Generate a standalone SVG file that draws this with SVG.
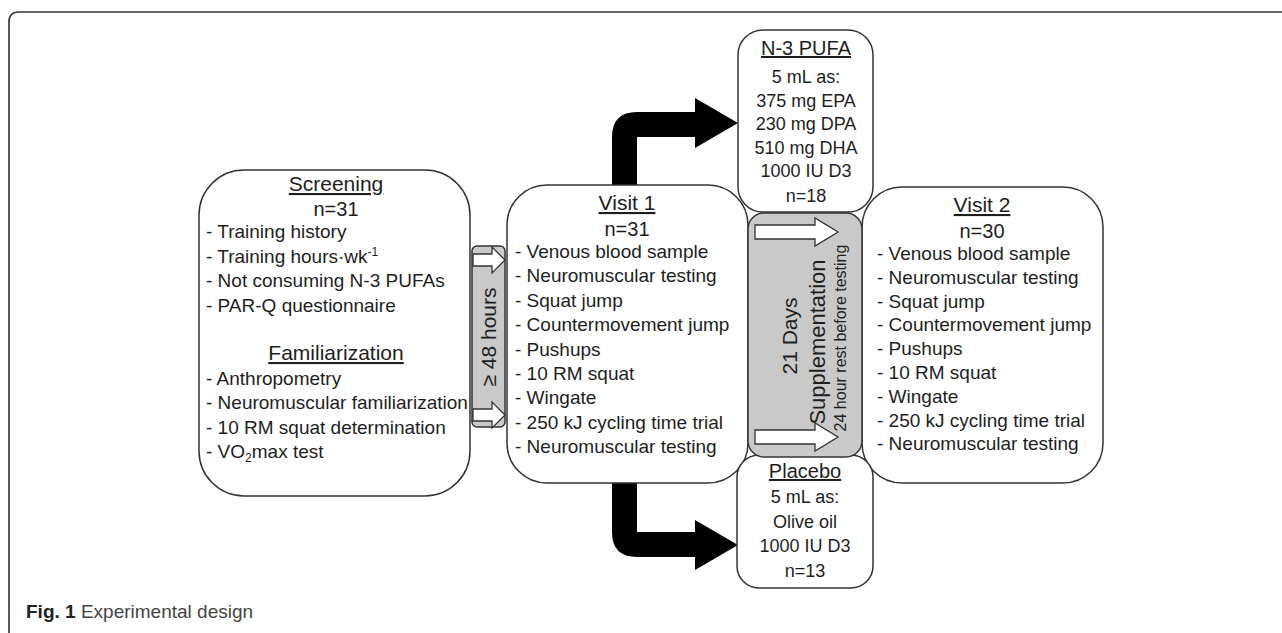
<svg xmlns="http://www.w3.org/2000/svg" width="1282" height="633" viewBox="0 0 1282 633">
<style>
.box{fill:#fff;stroke:#333;stroke-width:1.5}
.gray{fill:#c9c9c9;stroke:#333;stroke-width:1.5}
.warr{fill:#fff;stroke:#333;stroke-width:1.3}
.barr{fill:#000}
text{font-family:"Liberation Sans",Arial,sans-serif;fill:#1e1e1e}
.b{font-size:19px}
.s{font-size:18px}
.h{font-size:21px;text-decoration:underline}
.hs{font-size:20px;text-decoration:underline}
.n{font-size:20px}
.c{text-anchor:middle}
</style>
<path d="M9 633 L9 22 Q9 12 19 12 L1282 12" fill="none" stroke="#333" stroke-width="1.6"/>
<g id="connectors">
<path class="barr" d="M612 185 L612 137 Q612 112 637 112 L695 112 L695 98 L738 123 L695 148 L695 137 L637 137 L637 185 Z"/>
<path class="barr" d="M612 483 L612 532 Q612 557 637 557 L695 557 L695 570 L738 545 L695 520 L695 532 L637 532 L637 483 Z"/>
</g>
<g id="screening">
<rect class="box" x="199" y="170" width="271" height="326" rx="45"/>
<text class="h c" x="336" y="191">Screening</text>
<text class="n c" x="336" y="216">n=31</text>
<text class="b" x="206" y="238">- Training history</text>
<text class="b" x="206" y="262.5">- Training hours·wk<tspan font-size="12" dy="-7">-1</tspan></text>
<text class="b" x="206" y="287">- Not consuming N-3 PUFAs</text>
<text class="b" x="206" y="311.5">- PAR-Q questionnaire</text>
<text class="h c" x="336" y="360">Familiarization</text>
<text class="b" x="206" y="384.5">- Anthropometry</text>
<text class="b" x="206" y="409">- Neuromuscular familiarization</text>
<text class="b" x="206" y="433.5">- 10 RM squat determination</text>
<text class="b" x="206" y="458">- VO<tspan font-size="12" dy="4">2</tspan><tspan dy="-4">max test</tspan></text>
</g>
<g id="gap48">
<rect class="gray" x="472" y="246" width="33" height="181" rx="5"/>
<path class="warr" d="M473 254 L492 254 L492 247 L505 260 L492 273 L492 266 L473 266 Z"/>
<path class="warr" d="M473 409 L492 409 L492 402 L505 415 L492 428 L492 421 L473 421 Z"/>
<text class="c" font-size="21" transform="translate(496 337) rotate(-90)">≥ 48 hours</text>
</g>
<g id="visit1">
<rect class="box" x="507" y="185" width="241" height="298" rx="40"/>
<text class="h c" x="627" y="210">Visit 1</text>
<text class="n c" x="627" y="236">n=31</text>
<text class="b" x="515" y="258">- Venous blood sample</text>
<text class="b" x="515" y="282.4">- Neuromuscular testing</text>
<text class="b" x="515" y="306.8">- Squat jump</text>
<text class="b" x="515" y="331.2">- Countermovement jump</text>
<text class="b" x="515" y="355.6">- Pushups</text>
<text class="b" x="515" y="380">- 10 RM squat</text>
<text class="b" x="515" y="404.4">- Wingate</text>
<text class="b" x="515" y="428.8">- 250 kJ cycling time trial</text>
<text class="b" x="515" y="453.2">- Neuromuscular testing</text>
</g>
<g id="visit2">
<rect class="box" x="862" y="187" width="241" height="296" rx="40"/>
<text class="h c" x="982" y="212">Visit 2</text>
<text class="n c" x="982" y="238">n=30</text>
<text class="b" x="877" y="260">- Venous blood sample</text>
<text class="b" x="877" y="283.8">- Neuromuscular testing</text>
<text class="b" x="877" y="307.6">- Squat jump</text>
<text class="b" x="877" y="331.4">- Countermovement jump</text>
<text class="b" x="877" y="355.2">- Pushups</text>
<text class="b" x="877" y="379">- 10 RM squat</text>
<text class="b" x="877" y="402.8">- Wingate</text>
<text class="b" x="877" y="426.6">- 250 kJ cycling time trial</text>
<text class="b" x="877" y="450.4">- Neuromuscular testing</text>
</g>
<g id="n3pufa">
<rect class="box" x="738" y="30" width="135" height="182" rx="25"/>
<text class="hs c" x="806" y="55">N-3 PUFA</text>
<text class="s c" x="806" y="83">5 mL as:</text>
<text class="s c" x="806" y="107">375 mg EPA</text>
<text class="s c" x="806" y="130">230 mg DPA</text>
<text class="s c" x="806" y="154">510 mg DHA</text>
<text class="s c" x="806" y="177">1000 IU D3</text>
<text class="s c" x="806" y="202">n=18</text>
</g>
<g id="placebo">
<rect class="box" x="737" y="455" width="136" height="133" rx="22"/>
<text class="hs c" x="805" y="478">Placebo</text>
<text class="s c" x="805" y="503">5 mL as:</text>
<text class="s c" x="805" y="528">Olive oil</text>
<text class="s c" x="805" y="552">1000 IU D3</text>
<text class="s c" x="805" y="577">n=13</text>
</g>
<g id="supplementation">
<rect class="gray" x="748" y="213" width="114" height="244" rx="16"/>
<path class="warr" d="M755 225 L815 225 L815 218 L838 232 L815 246 L815 239 L755 239 Z"/>
<path class="warr" d="M755 430 L815 430 L815 423 L838 437 L815 451 L815 444 L755 444 Z"/>
<text class="c" font-size="21" transform="translate(797 336) rotate(-90)">21 Days</text>
<text class="c" font-size="22" transform="translate(825 342) rotate(-90)">Supplementation</text>
<text class="c" font-size="16" transform="translate(846 338) rotate(-90)">24 hour rest before testing</text>
</g>
<g id="caption">
<text x="26" y="618" font-size="19"><tspan font-weight="bold" fill="#222">Fig. 1</tspan><tspan fill="#444"> Experimental design</tspan></text>
</g>
</svg>
